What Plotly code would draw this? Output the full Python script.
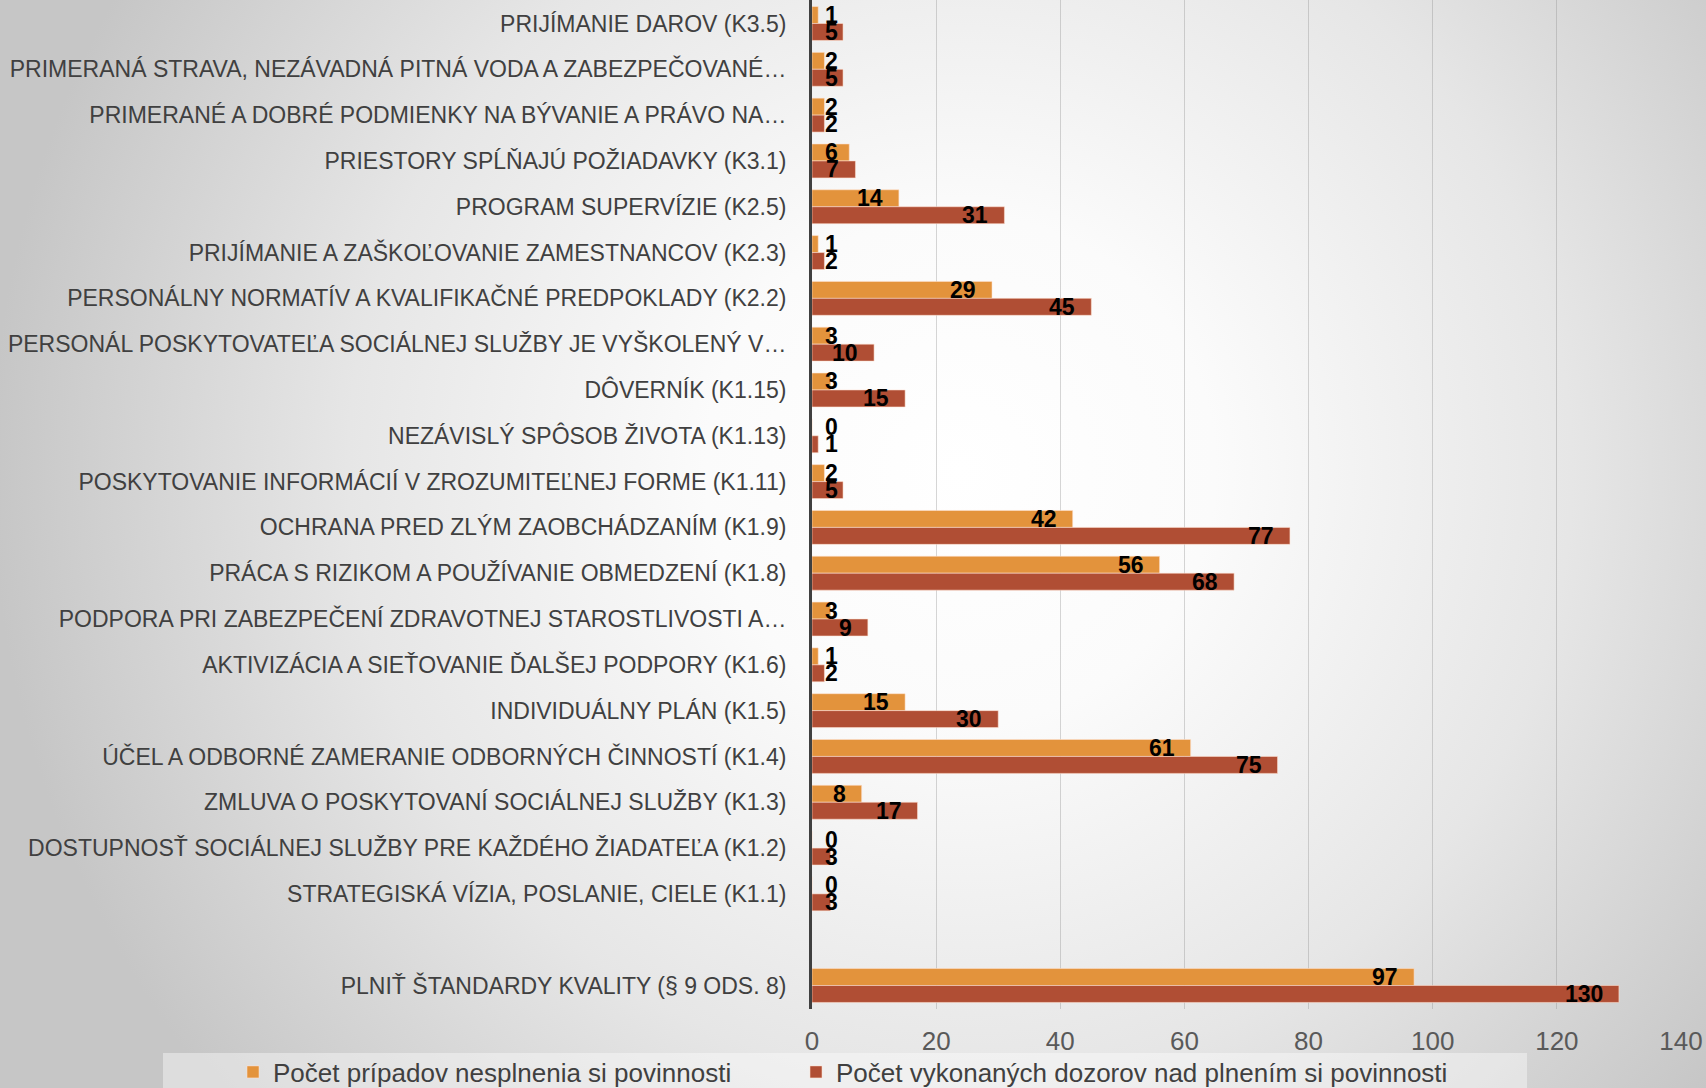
import base64
import plotly.graph_objects as go

categories = [
    "PRIJÍMANIE DAROV (K3.5)",
    "PRIMERANÁ STRAVA, NEZÁVADNÁ PITNÁ VODA A ZABEZPEČOVANÉ…",
    "PRIMERANÉ A DOBRÉ PODMIENKY NA BÝVANIE A PRÁVO NA…",
    "PRIESTORY SPĹŇAJÚ POŽIADAVKY (K3.1)",
    "PROGRAM SUPERVÍZIE (K2.5)",
    "PRIJÍMANIE A ZAŠKOĽOVANIE ZAMESTNANCOV (K2.3)",
    "PERSONÁLNY NORMATÍV A KVALIFIKAČNÉ PREDPOKLADY (K2.2)",
    "PERSONÁL POSKYTOVATEĽA SOCIÁLNEJ SLUŽBY JE VYŠKOLENÝ V…",
    "DÔVERNÍK (K1.15)",
    "NEZÁVISLÝ SPÔSOB ŽIVOTA (K1.13)",
    "POSKYTOVANIE INFORMÁCIÍ V ZROZUMITEĽNEJ FORME (K1.11)",
    "OCHRANA PRED ZLÝM ZAOBCHÁDZANÍM (K1.9)",
    "PRÁCA S RIZIKOM A POUŽÍVANIE OBMEDZENÍ (K1.8)",
    "PODPORA PRI ZABEZPEČENÍ ZDRAVOTNEJ STAROSTLIVOSTI A…",
    "AKTIVIZÁCIA A SIEŤOVANIE ĎALŠEJ PODPORY (K1.6)",
    "INDIVIDUÁLNY PLÁN (K1.5)",
    "ÚČEL A ODBORNÉ ZAMERANIE ODBORNÝCH ČINNOSTÍ (K1.4)",
    "ZMLUVA O POSKYTOVANÍ SOCIÁLNEJ SLUŽBY (K1.3)",
    "DOSTUPNOSŤ SOCIÁLNEJ SLUŽBY PRE KAŽDÉHO ŽIADATEĽA (K1.2)",
    "STRATEGISKÁ VÍZIA, POSLANIE, CIELE (K1.1)",
    " ",
    "PLNIŤ ŠTANDARDY KVALITY (§ 9 ODS. 8)",
]

nesplnenie = [1, 2, 2, 6, 14, 1, 29, 3, 3, 0, 2, 42, 56, 3, 1, 15, 61, 8, 0, 0, None, 97]
dozory = [5, 5, 2, 7, 31, 2, 45, 10, 15, 1, 5, 77, 68, 9, 2, 30, 75, 17, 3, 3, None, 130]

series_names = [
    "Počet prípadov nesplnenia si povinnosti",
    "Počet vykonaných dozorov nad plnením si povinnosti",
]
x_ticks = [0, 20, 40, 60, 80, 100, 120, 140]

W, H = 1706, 1088
ML, MR, MT, MB = 812, 25, 0, 79
PW = W - ML - MR
PH = H - MT - MB
XMAX = 140
ppu = PW / XMAX

ORANGE = "#E3933C"
RED = "#B04E34"
FONT = "Liberation Sans"

fig = go.Figure()
for name, vals, col, lg in [(series_names[0], nesplnenie, ORANGE, "legend"),
                            (series_names[1], dozory, RED, "legend2")]:
    fig.add_trace(go.Bar(
        y=categories, x=vals, name=name, orientation="h", legend=lg,
        marker=dict(color=col, line=dict(color="rgba(255,225,210,0.55)", width=1)),
        hoverinfo="x+y",
    ))

# data labels (inside end, clamped near the axis for short bars)
annotations = []
for vals, ys in [(nesplnenie, 8.5), (dozory, -8.5)]:
    for cat, v in zip(categories, vals):
        if v is None:
            continue
        txt = str(v)
        right_px = max(v * ppu - 14, 15 + len(txt) * 12.5)
        annotations.append(dict(
            x=right_px / ppu, y=cat, xref="x", yref="y", text=txt,
            showarrow=False, xanchor="right", yanchor="middle", yshift=ys,
            font=dict(family=FONT, size=23, color="#000000", weight="bold"),
        ))

svg = f'''<svg xmlns="http://www.w3.org/2000/svg" width="{W}" height="{H}" viewBox="0 0 {W} {H}" preserveAspectRatio="none">
<defs><radialGradient id="g" gradientUnits="userSpaceOnUse" cx="960" cy="470" r="1020">
<stop offset="0" stop-color="#ffffff"/><stop offset="0.25" stop-color="#fbfbfb"/>
<stop offset="0.6" stop-color="#e6e6e6"/><stop offset="0.95" stop-color="#c6c6c6"/>
</radialGradient></defs><rect x="0" y="0" width="{W}" height="{H}" fill="url(#g)"/></svg>'''
bg_src = "data:image/svg+xml;base64," + base64.b64encode(svg.encode()).decode()

legend_common = dict(
    orientation="h", xref="container", yref="container",
    xanchor="left", y=1 - 1072 / H, yanchor="middle",
    bgcolor="rgba(0,0,0,0)", font=dict(family=FONT, size=26, color="#404040"),
)

fig.update_layout(
    width=W, height=H,
    margin=dict(l=ML, r=MR, t=MT, b=MB, autoexpand=False),
    paper_bgcolor="#e4e4e4",
    plot_bgcolor="rgba(0,0,0,0)",
    barmode="group", bargap=0.26, bargroupgap=0,
    font=dict(family=FONT, color="#404040"),
    xaxis=dict(
        range=[0, XMAX], tickvals=x_ticks, showgrid=True,
        gridcolor="rgba(140,140,140,0.36)", gridwidth=1, zeroline=False,
        showline=False, ticks="", tickfont=dict(size=26, color="#595959"),
        ticklabelstandoff=14, automargin=False,
    ),
    yaxis=dict(
        categoryorder="array", categoryarray=categories, autorange="reversed",
        showline=True, linecolor="#404040", linewidth=3, showgrid=False,
        ticks="", tickfont=dict(size=23, color="#404040"),
        ticklabelstandoff=18, automargin=False,
    ),
    legend=dict(x=233 / W, **legend_common),
    legend2=dict(x=796 / W, **legend_common),
    annotations=annotations,
    images=[dict(
        source=bg_src, xref="paper", yref="paper",
        x=-ML / PW, y=1 + MT / PH, sizex=W / PW, sizey=H / PH,
        xanchor="left", yanchor="top", sizing="stretch", layer="below",
    )],
    shapes=[dict(
        type="rect", xref="paper", yref="paper",
        x0=(163 - ML) / PW, x1=(1527 - ML) / PW,
        y0=(PH - (1053 - MT)) / PH, y1=-0.2,
        fillcolor="rgba(255,255,255,0.4)", line=dict(width=0), layer="below",
    )],
    showlegend=True,
)

fig.write_html(
    "out.html",
    config={"displayModeBar": False},
    post_script="document.body.style.margin='0';document.body.style.overflow='hidden';",
)
